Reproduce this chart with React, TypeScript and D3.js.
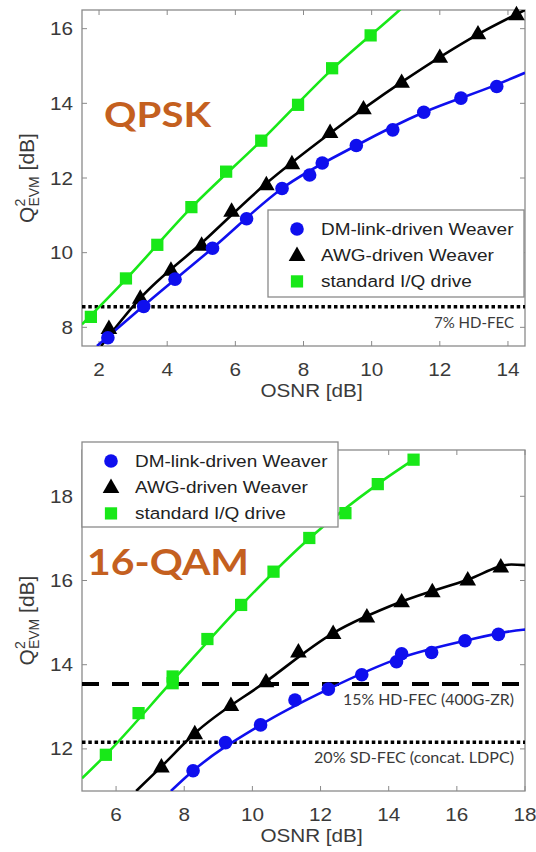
import React, { useEffect, useRef } from 'react';
import * as d3 from 'd3';

const W = 536;
const H = 852;

// ---- QPSK panel data ----
const qpskXTicks = [2, 4, 6, 8, 10, 12, 14];
const qpskYTicks = [8, 10, 12, 14, 16];
const qpskDM = [[2.26, 7.72], [3.31, 8.56], [4.23, 9.29], [5.33, 10.12], [6.33, 10.91], [7.37, 11.72], [8.18, 12.08], [8.55, 12.4], [9.55, 12.87], [10.62, 13.29], [11.53, 13.76], [12.62, 14.14], [13.67, 14.45]];
const qpskAWG = [[2.29, 7.98], [3.21, 8.79], [4.11, 9.54], [5.01, 10.21], [5.89, 11.12], [6.91, 11.83], [7.66, 12.39], [8.78, 13.23], [9.76, 13.86], [10.88, 14.57], [12.0, 15.24], [13.12, 15.87], [14.25, 16.38]];
const qpskIQ = [[1.76, 8.28], [2.79, 9.31], [3.71, 10.21], [4.71, 11.22], [5.73, 12.17], [6.76, 13.0], [7.84, 13.96], [8.84, 14.94], [9.97, 15.82]];
// fitted curves
const qpskDMFit = [[1.94, 7.5], [3.31, 8.58], [5.33, 10.12], [7.37, 11.72], [9.55, 12.87], [11.53, 13.76], [13.67, 14.5], [14.5, 14.82]];
const qpskAWGFit = [[2.06, 7.5], [3.21, 8.78], [5.0, 10.25], [6.9, 11.85], [8.78, 13.2], [10.88, 14.57], [13.12, 15.85], [14.5, 16.5]];
const qpskIQFit = [[1.5, 8.08], [2.8, 9.3], [4.7, 11.2], [6.76, 13.0], [8.86, 14.93], [10.82, 16.5], [11.0, 16.65]];
const qpskFec = [8.55];
const qpskFecLabels = ['7% HD-FEC'];

// ---- 16-QAM panel data ----
const qamXTicks = [6, 8, 10, 12, 14, 16, 18];
const qamYTicks = [12, 14, 16, 18];
const qamDM = [[8.26, 11.48], [9.21, 12.15], [10.24, 12.57], [11.25, 13.16], [12.23, 13.42], [13.21, 13.76], [14.23, 14.07], [14.38, 14.26], [15.26, 14.29], [16.24, 14.57], [17.22, 14.72]];
const qamAWG = [[7.33, 11.58], [8.31, 12.37], [9.37, 13.04], [10.4, 13.6], [11.35, 14.31], [12.37, 14.75], [13.36, 15.14], [14.38, 15.5], [15.28, 15.74], [16.32, 16.02], [17.29, 16.33]];
const qamIQ = [[5.7, 11.86], [6.66, 12.85], [7.66, 13.56], [7.66, 13.72], [8.68, 14.61], [9.67, 15.42], [10.62, 16.21], [11.67, 17.01], [12.73, 17.6], [13.68, 18.29], [14.73, 18.87]];
const qamDMFit = [[7.61, 11.0], [8.26, 11.48], [10.24, 12.57], [12.23, 13.42], [14.3, 14.15], [16.24, 14.57], [17.94, 14.83], [18.1, 14.84]];
const qamAWGFit = [[6.59, 11.0], [7.33, 11.58], [8.31, 12.37], [10.4, 13.6], [12.37, 14.75], [14.38, 15.5], [16.32, 16.02], [17.6, 16.38], [18.1, 16.36]];
const qamIQFit = [[5.0, 11.3], [5.7, 11.86], [7.66, 13.62], [9.67, 15.41], [11.67, 17.0], [13.68, 18.29], [14.73, 18.87]];
const qamFec = [13.54, 12.16];
const qamFecLabels = ['15% HD-FEC (400G-ZR)', '20% SD-FEC (concat. LDPC)'];

const seriesNames = ['DM-link-driven Weaver', 'AWG-driven Weaver', 'standard I/Q drive'];

const BLUE = '#0f0fee';
const GREEN = '#18e818';
const BLACK = '#000';
const ORANGE = '#c4601f';
const AXIS = '#8a8a8a';
const TXT = '#3a3a3a';
const SX = 1.15; // the figure's text is a bit wider than it is tall

type Pt = number[];

interface PanelCfg {
  box: { left: number; right: number; top: number; bottom: number };
  xDomain: [number, number];
  yDomain: [number, number];
  xTicks: number[];
  yTicks: number[];
  dm: Pt[]; awg: Pt[]; iq: Pt[];
  dmFit: Pt[]; awgFit: Pt[]; iqFit: Pt[];
  fec: number[]; fecLabels: string[]; fecDash: string[]; fecLen: number[];
  legend: { x: number; y: number; w: number; h: number };
  title: string; titleX: number; titleY: number; titleSize: number; titleLen: number;
  id: string;
}

function stretched(g: any, x: number, y: number, txt: string, anchor: string, size: number) {
  return g.append('text')
    .attr('transform', `translate(${x},${y}) scale(${SX},1)`)
    .attr('text-anchor', anchor)
    .attr('font-size', size)
    .attr('fill', TXT)
    .text(txt);
}

function drawMarker(g: any, kind: number, x: number, y: number) {
  if (kind === 0) {
    g.append('circle').attr('cx', x).attr('cy', y).attr('r', 6.8).attr('fill', BLUE);
  } else if (kind === 1) {
    g.append('path').attr('d', d3.symbol(d3.symbolTriangle, 120)()).attr('transform', `translate(${x},${y + 1})`).attr('fill', BLACK);
  } else {
    g.append('path').attr('d', d3.symbol(d3.symbolSquare, 150)()).attr('transform', `translate(${x},${y})`).attr('fill', GREEN);
  }
}

function drawPanel(svg: any, c: PanelCfg) {
  const { left, right, top, bottom } = c.box;
  const x = d3.scaleLinear().domain(c.xDomain).range([left, right]);
  const y = d3.scaleLinear().domain(c.yDomain).range([bottom, top]);
  const g = svg.append('g').attr('font-family', '"Liberation Sans", Arial, sans-serif');

  g.append('clipPath').attr('id', c.id).append('rect')
    .attr('x', left).attr('y', top).attr('width', right - left).attr('height', bottom - top);

  // box + ticks
  g.append('rect').attr('x', left).attr('y', top).attr('width', right - left).attr('height', bottom - top)
    .attr('fill', 'white').attr('stroke', AXIS).attr('stroke-width', 1.3);
  c.xTicks.forEach((t) => {
    g.append('line').attr('x1', x(t)).attr('x2', x(t)).attr('y1', bottom).attr('y2', bottom - 5).attr('stroke', AXIS);
    g.append('line').attr('x1', x(t)).attr('x2', x(t)).attr('y1', top).attr('y2', top + 5).attr('stroke', AXIS);
    stretched(g, x(t), bottom + 30, String(t), 'middle', 18);
  });
  c.yTicks.forEach((t) => {
    g.append('line').attr('x1', left).attr('x2', left + 5).attr('y1', y(t)).attr('y2', y(t)).attr('stroke', AXIS);
    g.append('line').attr('x1', right).attr('x2', right - 5).attr('y1', y(t)).attr('y2', y(t)).attr('stroke', AXIS);
    stretched(g, left - 9, y(t) + 6.5, String(t), 'end', 18);
  });

  // axis labels
  stretched(g, (left + right) / 2 + 8, bottom + 51, 'OSNR [dB]', 'middle', 18);
  const yl = g.append('text')
    .attr('transform', `translate(34,${(top + bottom) / 2}) rotate(-90)`)
    .attr('text-anchor', 'middle').attr('font-size', 21).attr('fill', TXT);
  yl.append('tspan').text('Q');
  yl.append('tspan').attr('font-size', 14).attr('dy', -9).text('2');
  yl.append('tspan').attr('font-size', 14).attr('dx', -7.8).attr('dy', 14).text('EVM');
  yl.append('tspan').attr('dy', -5).text(' [dB]');

  // FEC thresholds
  c.fec.forEach((v, i) => {
    g.append('line').attr('x1', left).attr('x2', right).attr('y1', y(v)).attr('y2', y(v))
      .attr('stroke', BLACK).attr('stroke-width', c.fecDash[i] === 'dot' ? 3.5 : 4)
      .attr('stroke-dasharray', c.fecDash[i] === 'dot' ? '3.5 2.8' : '17 13');
    g.append('text').attr('x', right - 11).attr('y', y(v) + 21)
      .attr('text-anchor', 'end').attr('font-family', 'Lato, "Open Sans", sans-serif')
      .attr('font-size', 14.5).attr('fill', TXT)
      .attr('textLength', c.fecLen[i]).attr('lengthAdjust', 'spacingAndGlyphs')
      .text(c.fecLabels[i]);
  });

  // curves
  const line = d3.line<Pt>().x((d) => x(d[0])).y((d) => y(d[1])).curve(d3.curveMonotoneX);
  const curves = g.append('g').attr('clip-path', `url(#${c.id})`);
  [[c.iqFit, GREEN], [c.awgFit, BLACK], [c.dmFit, BLUE]].forEach(([d, col]: any) => {
    curves.append('path').attr('d', line(d)).attr('fill', 'none').attr('stroke', col).attr('stroke-width', 2.6);
  });

  // markers
  const mk = g.append('g');
  c.iq.forEach((d) => drawMarker(mk, 2, x(d[0]), y(d[1])));
  c.awg.forEach((d) => drawMarker(mk, 1, x(d[0]), y(d[1])));
  c.dm.forEach((d) => drawMarker(mk, 0, x(d[0]), y(d[1])));

  // legend
  const L = c.legend;
  g.append('rect').attr('x', L.x).attr('y', L.y).attr('width', L.w).attr('height', L.h)
    .attr('fill', 'white').attr('stroke', AXIS).attr('stroke-width', 1.3);
  seriesNames.forEach((name, i) => {
    const ry = L.y + 19 + i * 26.2;
    drawMarker(g, i, L.x + 29, ry);
    stretched(g, L.x + 53, ry + 6, name, 'start', 16.5).attr('fill', '#222');
  });

  // modulation label
  g.append('text').attr('x', c.titleX).attr('y', c.titleY)
    .attr('font-family', 'Lato, "Open Sans", sans-serif').attr('font-weight', 'bold')
    .attr('font-size', c.titleSize).attr('fill', ORANGE)
    .attr('textLength', c.titleLen).attr('lengthAdjust', 'spacingAndGlyphs')
    .text(c.title);
}

const panels: PanelCfg[] = [
  {
    id: 'clipQpsk',
    box: { left: 82, right: 525, top: 10, bottom: 346 },
    xDomain: [1.5, 14.5], yDomain: [7.5, 16.5],
    xTicks: qpskXTicks, yTicks: qpskYTicks,
    dm: qpskDM, awg: qpskAWG, iq: qpskIQ,
    dmFit: qpskDMFit, awgFit: qpskAWGFit, iqFit: qpskIQFit,
    fec: qpskFec, fecLabels: qpskFecLabels, fecDash: ['dot'], fecLen: [80],
    legend: { x: 268, y: 210, w: 256, h: 87 },
    title: 'QPSK', titleX: 104, titleY: 127, titleSize: 35, titleLen: 107,
  },
  {
    id: 'clipQam',
    box: { left: 82, right: 525, top: 450, bottom: 791 },
    xDomain: [5, 18], yDomain: [11, 19.1],
    xTicks: qamXTicks, yTicks: qamYTicks,
    dm: qamDM, awg: qamAWG, iq: qamIQ,
    dmFit: qamDMFit, awgFit: qamAWGFit, iqFit: qamIQFit,
    fec: qamFec, fecLabels: qamFecLabels, fecDash: ['dash', 'dot'], fecLen: [171, 200],
    legend: { x: 82, y: 442, w: 256, h: 85 },
    title: '16-QAM', titleX: 87, titleY: 575, titleSize: 37, titleLen: 162,
  },
];

export default function App() {
  const ref = useRef<SVGSVGElement>(null);

  useEffect(() => {
    const svg = d3.select(ref.current);
    svg.selectAll('*').remove();
    svg.append('rect').attr('width', W).attr('height', H).attr('fill', 'white');
    panels.forEach((p) => drawPanel(svg, p));
  }, []);

  return (
    <svg ref={ref} width={W} height={H} style={{ position: 'absolute', left: 0, top: 0 }} />
  );
}
